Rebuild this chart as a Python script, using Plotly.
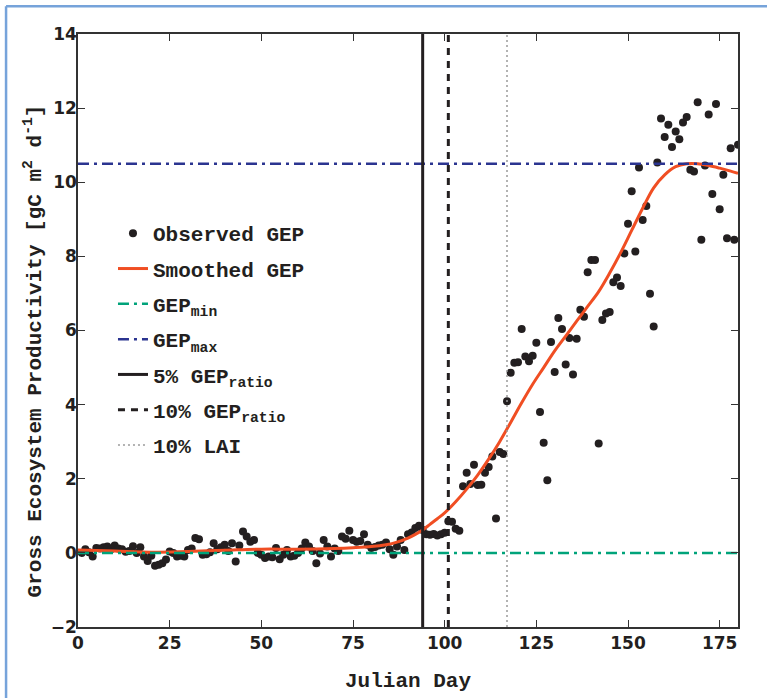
import plotly.graph_objects as go

# ---------------- data ----------------
obs_day = list(range(1, 181))
obs_gep = [
    0.00, 0.10, 0.02, -0.10, 0.13, 0.12, 0.15, 0.17, 0.10, 0.20,
    0.12, 0.10, 0.03, 0.05, 0.18, 0.00, 0.15, -0.10, -0.22, -0.08,
    -0.35, -0.32, -0.28, -0.18, 0.04, 0.00, -0.10, -0.08, -0.10, 0.08,
    0.12, 0.40, 0.37, -0.05, -0.04, 0.02, 0.26, 0.10, 0.15, 0.22,
    0.05, 0.26, -0.23, 0.20, 0.58, 0.44, 0.30, 0.35, 0.00, -0.05,
    -0.14, -0.10, -0.12, 0.13, -0.17, -0.05, 0.08, -0.10, -0.08, 0.00,
    0.12, 0.28, 0.17, 0.05, -0.28, -0.02, 0.35, 0.17, -0.10, 0.12,
    0.05, 0.44, 0.38, 0.60, 0.35, 0.30, 0.32, 0.50, 0.22, 0.13,
    0.16, 0.20, 0.22, 0.28, 0.10, -0.05, 0.17, 0.35, 0.08, 0.50,
    0.55, 0.67, 0.73, 0.62, 0.50, 0.49, 0.51, 0.47, 0.50, 0.54,
    0.85, 0.84, 0.65, 0.60, 1.80, 2.16, 1.86, 2.38, 1.83, 1.84,
    2.16, 2.32, 2.60, 0.93, 2.72, 2.67, 4.09, 4.86, 5.13, 5.14,
    6.04, 5.30, 5.17, 5.32, 5.67, 3.80, 2.97, 1.96, 5.69, 4.88,
    6.34, 6.04, 5.08, 5.80, 4.81, 5.78, 6.56, 6.37, 7.57, 7.90,
    7.90, 2.95, 6.28, 6.46, 6.50, 7.30, 7.43, 7.20, 8.08, 8.88,
    9.76, 8.13, 10.40, 8.98, 9.36, 6.99, 6.11, 10.53, 11.72, 11.22,
    11.55, 10.95, 11.37, 11.16, 11.61, 11.76, 10.34, 10.29, 12.16, 8.45,
    10.45, 11.83, 9.68, 12.11, 9.27, 10.20, 8.49, 10.92, 8.45, 11.01,
]

smooth_day = [0, 10, 20, 30, 40, 50, 60, 70, 75, 80, 84, 87, 90, 92, 94, 96, 98,
              100, 103, 106, 109, 112, 115, 118, 121, 124, 127, 130, 133, 136,
              139, 142, 145, 148, 151, 154, 157, 160, 163, 166, 169, 172, 175,
              178, 180]
smooth_gep = [0.08, 0.05, 0.02, 0.04, 0.07, 0.10, 0.10, 0.12, 0.14, 0.17, 0.22,
              0.29, 0.40, 0.50, 0.62, 0.77, 0.92, 1.08, 1.38, 1.72, 2.10, 2.53,
              3.00, 3.52, 4.05, 4.55, 5.00, 5.45, 5.85, 6.25, 6.65, 7.05, 7.55,
              8.10, 8.70, 9.30, 9.85, 10.20, 10.42, 10.50, 10.50, 10.45, 10.38,
              10.30, 10.24]

gep_min = 0.0
gep_max = 10.5
day5_ratio = 94
day10_ratio = 101
day10_lai = 117

x_range = [0, 180]
y_range = [-2, 14]
x_ticks = [0, 25, 50, 75, 100, 125, 150, 175]
y_ticks = [-2, 0, 2, 4, 6, 8, 10, 12, 14]

# ---------------- figure ----------------
MONO = "Courier New, Liberation Mono, monospace"
INK = "#231F20"
fig = go.Figure()

fig.add_trace(go.Scatter(x=obs_day, y=obs_gep, mode="markers", name="Observed GEP",
                         legendgroup="a", marker=dict(color=INK, size=8)))
fig.add_trace(go.Scatter(x=smooth_day, y=smooth_gep, mode="lines", name="Smoothed GEP",
                         legendgroup="b",
                         line=dict(color="#F04E23", width=3, shape="spline")))
fig.add_trace(go.Scatter(x=x_range, y=[gep_min, gep_min], mode="lines",
                         name="GEP<sub>min</sub>", legendgroup="c",
                         line=dict(color="#00A37A", width=2.5, dash="11px,5px,3px,5px")))
fig.add_trace(go.Scatter(x=x_range, y=[gep_max, gep_max], mode="lines",
                         name="GEP<sub>max</sub>", legendgroup="d",
                         line=dict(color="#2B3490", width=2.5, dash="11px,5px,3px,5px")))
fig.add_trace(go.Scatter(x=[day5_ratio, day5_ratio], y=y_range, mode="lines",
                         name="5% GEP<sub>ratio</sub>", legendgroup="e",
                         line=dict(color=INK, width=3)))
fig.add_trace(go.Scatter(x=[day10_ratio, day10_ratio], y=y_range, mode="lines",
                         name="10% GEP<sub>ratio</sub>", legendgroup="f",
                         line=dict(color=INK, width=3, dash="7px,6px")))
fig.add_trace(go.Scatter(x=[day10_lai, day10_lai], y=y_range, mode="lines",
                         name="10% LAI", legendgroup="g",
                         line=dict(color="#9A9A9A", width=1.5, dash="2px,3px")))

# page frame (light blue)
fig.add_shape(type="line", xref="paper", yref="paper", x0=-0.109, x1=-0.109,
              y0=-0.15, y1=1.047, line=dict(color="#76A3DA", width=2.5))
fig.add_shape(type="line", xref="paper", yref="paper", x0=-0.109, x1=1.1,
              y0=1.047, y1=1.047, line=dict(color="#76A3DA", width=2.5))

# y-axis title as annotation (reference title sits slightly below centre)
fig.add_annotation(text="Gross Ecosystem Productivity [gC m<sup>2</sup> d<sup>-1</sup>]",
                   xref="paper", yref="paper", x=-0.068, y=0.465,
                   xanchor="center", yanchor="middle", textangle=-90, showarrow=False,
                   font=dict(family=MONO, size=21, color=INK, weight="bold"))

axis_common = dict(showline=True, linecolor="#333333", linewidth=1.5, mirror="ticks",
                   ticks="inside", ticklen=7, tickwidth=1.2, tickcolor="#333333",
                   showgrid=False, zeroline=False, automargin=False,
                   tickfont=dict(family="DejaVu Sans", size=17, color=INK,
                                 weight="bold"))

fig.update_layout(
    width=767, height=698,
    margin=dict(l=78, r=29, t=34, b=71),
    paper_bgcolor="white", plot_bgcolor="white",
    showlegend=True,
    legend=dict(x=0.053, y=0.698, xanchor="left", yanchor="top",
                bgcolor="rgba(0,0,0,0)", borderwidth=0,
                font=dict(family=MONO, size=21, color=INK, weight="bold"),
                tracegroupgap=5),
    xaxis=dict(range=x_range, tickvals=x_ticks,
               title=dict(text="Julian Day", standoff=20,
                          font=dict(family=MONO, size=21, color=INK, weight="bold")),
               **axis_common),
    yaxis=dict(range=y_range, tickvals=y_ticks, **axis_common),
)

try:
    fig.update_yaxes(ticklabelstandoff=-4)
except Exception:
    pass

fig.write_html("out.html")
